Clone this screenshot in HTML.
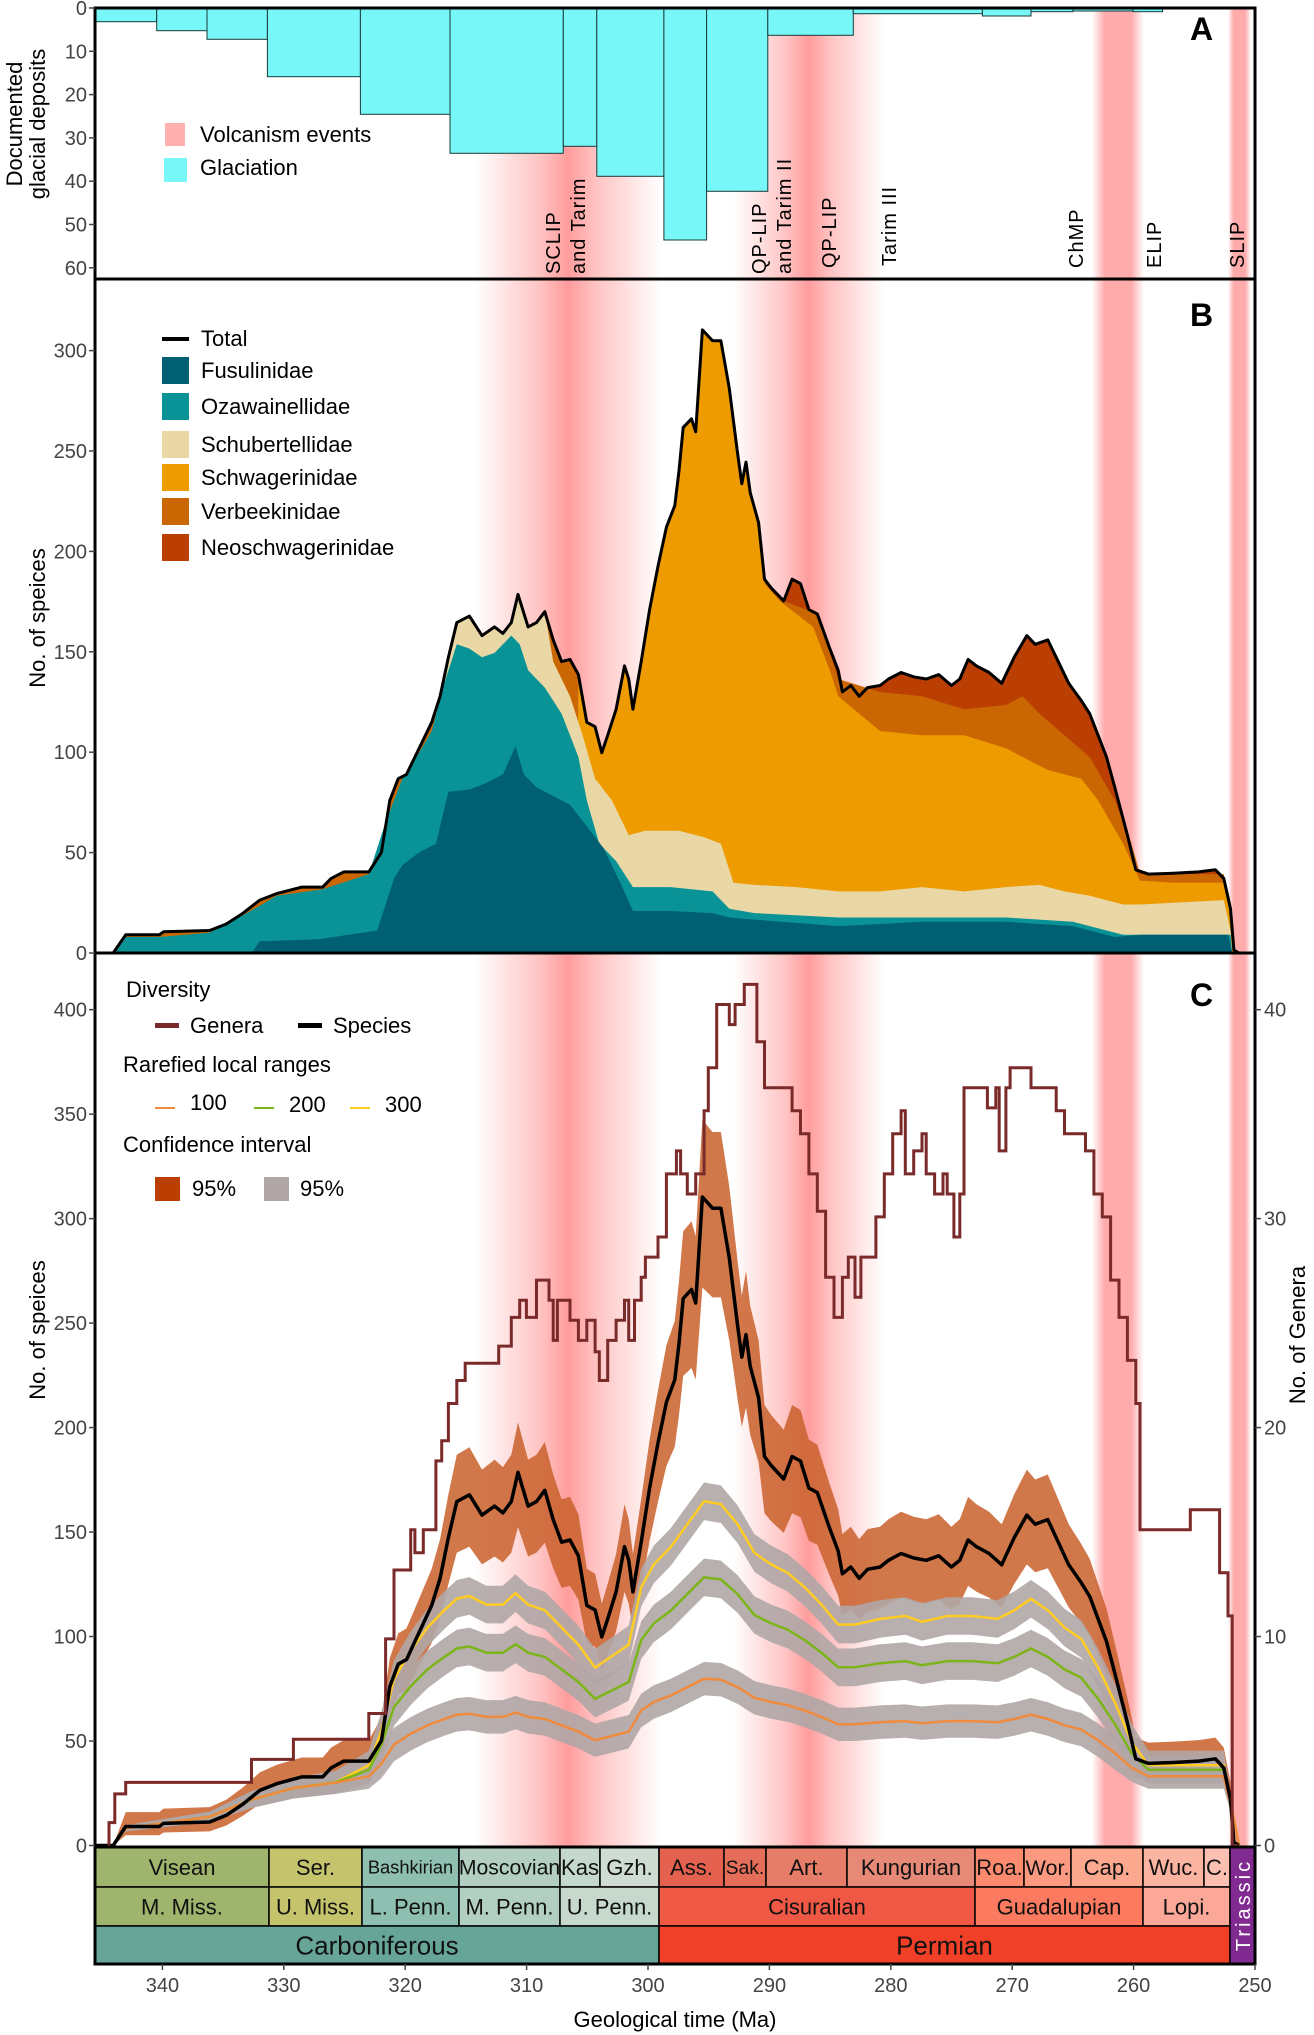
<!DOCTYPE html>
<html><head><meta charset="utf-8"><style>
html,body{margin:0;padding:0;background:#fff;}
svg{display:block;font-family:"Liberation Sans",sans-serif;}
</style></head><body>
<svg id="s" width="1314" height="2035" viewBox="0 0 1314 2035" xmlns="http://www.w3.org/2000/svg">
<defs>
<linearGradient id="g1" x1="0" x2="1" y1="0" y2="0">
<stop offset="0" stop-color="#ff9c9c" stop-opacity="0"/><stop offset="0.35" stop-color="#ff9c9c" stop-opacity="0.6"/><stop offset="0.5" stop-color="#ff9c9c" stop-opacity="1"/><stop offset="0.65" stop-color="#ff9c9c" stop-opacity="0.6"/><stop offset="1" stop-color="#ff9c9c" stop-opacity="0"/></linearGradient>
<linearGradient id="g2" x1="0" x2="1" y1="0" y2="0">
<stop offset="0" stop-color="#ff9c9c" stop-opacity="0"/><stop offset="0.25" stop-color="#ff9c9c" stop-opacity="0.85"/><stop offset="0.75" stop-color="#ff9c9c" stop-opacity="0.85"/><stop offset="1" stop-color="#ff9c9c" stop-opacity="0"/></linearGradient>
</defs>
<g id="bands">
<rect x="474" y="9" width="188" height="1838" fill="url(#g1)"/>
<rect x="733" y="9" width="151" height="1838" fill="url(#g1)"/>
<rect x="1092" y="9" width="52" height="1838" fill="url(#g2)"/>
<rect x="1228" y="9" width="23" height="1838" fill="url(#g2)"/>
</g>
<g id="dyn"></g>
<g id="st"></g>
<rect x="95" y="8" width="1160" height="271" fill="none" stroke="#000" stroke-width="3"/>
<rect x="95" y="279" width="1160" height="674" fill="none" stroke="#000" stroke-width="3"/>
<rect x="95" y="953" width="1160" height="894" fill="none" stroke="#000" stroke-width="3"/>
<g id="ticks" font-size="20" fill="#444"></g>
<g font-weight="bold" font-size="32" fill="#000">
<text x="1190" y="40">A</text><text x="1190" y="326">B</text><text x="1190" y="1006">C</text></g>
<g font-size="22" fill="#000">
<text transform="translate(22,124) rotate(-90)" text-anchor="middle">Documented</text>
<text transform="translate(45,124) rotate(-90)" text-anchor="middle">glacial deposits</text>
<text transform="translate(45,618) rotate(-90)" text-anchor="middle">No. of speices</text>
<text transform="translate(45,1330) rotate(-90)" text-anchor="middle">No. of speices</text>
<text transform="translate(1305,1335) rotate(-90)" text-anchor="middle">No. of Genera</text>
<text x="675" y="2027" text-anchor="middle">Geological time (Ma)</text>
</g>
<g font-size="20" fill="#000" letter-spacing="1">
<text transform="translate(560,274) rotate(-90)">SCLIP</text>
<text transform="translate(585,274) rotate(-90)">and Tarim</text>
<text transform="translate(766,274) rotate(-90)">QP-LIP</text>
<text transform="translate(791,274) rotate(-90)">and Tarim II</text>
<text transform="translate(836,268) rotate(-90)">QP-LIP</text>
<text transform="translate(896,266) rotate(-90)">Tarim III</text>
<text transform="translate(1083,268) rotate(-90)">ChMP</text>
<text transform="translate(1161,268) rotate(-90)">ELIP</text>
<text transform="translate(1244,268) rotate(-90)">SLIP</text>
</g>
<g font-size="22" fill="#000">
<rect x="165" y="123" width="20" height="23" fill="#ff9c9c" opacity="0.8"/>
<rect x="164" y="158" width="23" height="24" fill="#77f7f7"/>
<text x="200" y="142">Volcanism events</text><text x="200" y="175">Glaciation</text>
<rect x="162" y="337" width="27" height="4" fill="#000"/><text x="201" y="346">Total</text>
<rect x="162" y="357" width="27" height="27" fill="#005f73"/><text x="201" y="378">Fusulinidae</text>
<rect x="162" y="393" width="27" height="27" fill="#0a9396"/><text x="201" y="414">Ozawainellidae</text>
<rect x="162" y="431" width="27" height="27" fill="#e9d8a6"/><text x="201" y="452">Schubertellidae</text>
<rect x="162" y="464" width="27" height="27" fill="#ee9b00"/><text x="201" y="485">Schwagerinidae</text>
<rect x="162" y="498" width="27" height="27" fill="#ca6702"/><text x="201" y="519">Verbeekinidae</text>
<rect x="162" y="534" width="27" height="27" fill="#bb3e03"/><text x="201" y="555">Neoschwagerinidae</text>
<text x="126" y="997">Diversity</text>
<rect x="155" y="1023" width="24" height="5" fill="#7b2a2a"/><text x="190" y="1033">Genera</text>
<rect x="298" y="1023" width="24" height="5" fill="#000"/><text x="333" y="1033">Species</text>
<text x="123" y="1072">Rarefied local ranges</text>
<rect x="155" y="1107" width="20" height="2" fill="#f08a3c"/><text x="190" y="1110">100</text>
<rect x="254" y="1107" width="20" height="2" fill="#7cb518"/><text x="289" y="1112">200</text>
<rect x="350" y="1107" width="20" height="2" fill="#ffcc22"/><text x="385" y="1112">300</text>
<text x="123" y="1152">Confidence interval</text>
<rect x="155" y="1177" width="25" height="24" fill="#bb3e03"/><text x="192" y="1196">95%</text>
<rect x="264" y="1177" width="25" height="24" fill="#b0a6a6"/><text x="300" y="1196">95%</text>
</g>
</svg>
<script>
(function(){
var NS="http://www.w3.org/2000/svg";
function el(p,tag,a,txt){var e=document.createElementNS(NS,tag);for(var k in a)e.setAttribute(k,a[k]);if(txt!==undefined)e.textContent=txt;p.appendChild(e);return e;}
function P(pts){return 'M'+pts.map(function(p){return p[0].toFixed(1)+','+p[1].toFixed(1);}).join('L');}
var dyn=document.getElementById('dyn'),st=document.getElementById('st'),tk=document.getElementById('ticks');
var bx=[94.7,156.7,207,267.4,360.4,450,563.3,596.8,663.9,706.6,767.8,853.3,982.4,1031,1073,1133,1162.6];
var by=[21.7,30.7,39.3,76.7,114.3,153.3,146.3,176.3,240,191.3,35.3,13.7,16,11.7,11,11.7];
for(var i=0;i<by.length;i++){el(dyn,'rect',{x:bx[i],y:8,width:bx[i+1]-bx[i],height:by[i]-8,fill:'#77f7f7',stroke:'#1a3a3a','stroke-width':1});}
var T=[[113,1552],[135,1552],[150,1510],[190,1510],[195,1503],[250,1500],[270,1485],[290,1460],[310,1430],[330,1415],[360,1400],[385,1400],[395,1380],[410,1365],[440,1365],[455,1320],[465,1200],[475,1150],[485,1140],[495,1100],[505,1060],[515,1020],[525,960],[535,870],[545,790],[560,775],[575,820],[590,800],[600,815],[610,790],[618,725],[630,800],[640,790],[650,765],[660,830],[670,880],[680,875],[690,910],[700,1020],[710,1030],[718,1090],[725,1050],[735,990],[745,890],[750,920],[755,990],[765,880],[775,760],[785,660],[795,570],[805,520],[810,440],[815,340],[825,320],[830,350],[838,115],[850,140],[860,140],[870,250],[880,400],[885,470],[890,420],[895,490],[905,560],[912,690],[920,710],[935,740],[945,690],[955,700],[965,760],[975,770],[990,850],[1000,900],[1005,950],[1015,935],[1025,960],[1035,940],[1050,935],[1060,920],[1075,905],[1090,915],[1105,920],[1120,910],[1135,935],[1145,920],[1155,875],[1165,890],[1180,905],[1195,930],[1210,870],[1225,820],[1235,840],[1250,830],[1260,870],[1275,930],[1290,970],[1300,1000],[1310,1050],[1320,1100],[1330,1170],[1345,1280],[1355,1360],[1370,1370],[1400,1368],[1430,1365],[1450,1360],[1460,1380],[1468,1450],[1472,1545],[1478,1552]];
function rng(a,b){return T.filter(function(p){return p[0]>=a&&p[0]<=b;});}
var V=rng(0,905).concat([[912,690],[935,740],[975,770],[1000,920],[1050,950],[1100,960],[1150,990],[1200,980],[1220,960],[1240,1000],[1270,1050],[1300,1100],[1330,1200],[1350,1300],[1360,1370],[1460,1370],[1468,1450],[1472,1552]]);
var S=[[688,1552]].concat(rng(690,905)).concat([[912,700],[930,740],[950,770],[970,800],[990,900],[1000,960],[1050,1040],[1100,1050],[1150,1050],[1200,1080],[1250,1130],[1290,1150],[1310,1200],[1340,1300],[1360,1385],[1400,1390],[1460,1390],[1468,1450],[1472,1552]]);
var SB=[[518,1552],[520,1000]].concat(rng(525,650)).concat([[660,880],[680,960],[695,1050],[710,1150],[730,1200],[750,1280],[770,1270],[810,1270],[840,1285],[860,1300],[875,1390],[900,1395],[950,1400],[1000,1410],[1050,1410],[1100,1400],[1150,1410],[1200,1400],[1240,1395],[1270,1410],[1300,1420],[1340,1440],[1360,1440],[1460,1430],[1468,1500],[1470,1552]]);
var OZ=[[113,1552],[135,1552],[150,1515],[190,1515],[250,1505],[290,1465],[330,1420],[385,1405],[440,1370],[460,1250],[480,1150],[500,1090],[515,1040],[530,930],[545,840],[560,850],[575,870],[590,860],[610,820],[620,840],[630,900],[650,940],[670,1000],[690,1100],[700,1200],[715,1300],[735,1340],[755,1400],[800,1400],[850,1410],[870,1450],[900,1460],[1000,1470],[1200,1470],[1280,1480],[1320,1500],[1340,1510],[1468,1510],[1470,1552]];
var FU=[[113,1552],[300,1552],[310,1525],[380,1520],[450,1500],[460,1440],[470,1380],[480,1350],[500,1320],[520,1300],[535,1180],[560,1175],[580,1160],[600,1140],[615,1075],[625,1140],[640,1170],[660,1190],[680,1210],[700,1260],[720,1310],[740,1390],[755,1455],[800,1455],[850,1460],[870,1470],[900,1475],[1000,1490],[1050,1485],[1100,1480],[1200,1480],[1280,1490],[1330,1515],[1360,1510],[1465,1510],[1470,1552]];
function toB(pts){return pts.map(function(p){return [p[0]/1.193,280+p[1]/2.306];});}
function closeB(pts){var q=toB(pts);var b=953;q.push([q[q.length-1][0],b]);q.unshift([q[0][0],b]);return P(q)+'Z';}
[[T,'#bb3e03'],[V,'#ca6702'],[S,'#ee9b00'],[SB,'#e9d8a6'],[OZ,'#0a9396'],[FU,'#005f73']].forEach(function(a){el(dyn,'path',{d:closeB(a[0]),fill:a[1]});});
el(dyn,'path',{d:P(toB(T)),fill:'none',stroke:'#000','stroke-width':3,'stroke-linejoin':'round'});
function cy(v){return 1845.5-2.0896*v;}
function val(yz){return (1552-yz)/4.63;}
var up=T.map(function(p){return [p[0]/1.193,cy(Math.max(0,val(p[1])*1.1+(val(p[1])>2?6:0)))];});
var lo=T.map(function(p){return [p[0]/1.193,cy(Math.max(0,val(p[1])*0.87-3))];}).reverse();
el(dyn,'path',{d:P(up.concat(lo))+'Z',fill:'#c9602c',opacity:0.85});
var Y=[[135,1560],[150,1530],[250,1510],[300,1480],[350,1460],[400,1450],[440,1420],[455,1360],[470,1270],[490,1220],[510,1180],[530,1150],[545,1130],[560,1125],[580,1140],[600,1140],[615,1120],[630,1140],[650,1150],[670,1180],[690,1210],[710,1250],[720,1240],[740,1220],[750,1210],[765,1110],[780,1070],[800,1040],[820,1000],[840,960],[860,965],[880,1000],[900,1050],[920,1070],[940,1085],[960,1110],[980,1140],[1000,1175],[1020,1175],[1050,1165],[1080,1160],[1100,1170],[1130,1160],[1160,1160],[1190,1165],[1210,1150],[1230,1130],[1250,1150],[1270,1180],[1290,1200],[1310,1250],[1330,1310],[1350,1380],[1370,1420],[1460,1420],[1470,1500],[1478,1560]];
var yv=Y.map(function(p){return [p[0]/1.193,(1560-p[1])/3.6425];});
function fy(v){return v;} function fg(v){return v-0.27*Math.max(0,v-30);} function fo(v){return v<=30?v:30+(v-30)*0.37;}
[[fy,'#ffcc22',9],[fg,'#7cb518',9],[fo,'#f08a3c',8]].forEach(function(a){
 var f=a[0],w=a[2];
 var u=yv.map(function(p){var v=f(p[1]);return [p[0],cy(v+Math.min(w,v*0.18))];});
 var l=yv.map(function(p){var v=f(p[1]);return [p[0],cy(Math.max(0,v-Math.min(w,v*0.18)))];}).reverse();
 el(dyn,'path',{d:P(u.concat(l))+'Z',fill:'#b0a6a6',opacity:0.9});
});
[[fy,'#ffcc22'],[fg,'#7cb518'],[fo,'#f08a3c']].forEach(function(a){
 el(dyn,'path',{d:P(yv.map(function(p){return [p[0],cy(a[0](p[1]))];})),fill:'none',stroke:a[1],'stroke-width':2.5});
});
el(dyn,'path',{d:P(T.map(function(p){return [p[0]/1.193,cy(val(p[1]))];})),fill:'none',stroke:'#000','stroke-width':3.5,'stroke-linejoin':'round'});
var G=[[130,1560],[130,1520],[137,1520],[137,1470],[150,1470],[150,1450],[300,1450],[300,1410],[350,1410],[350,1375],[440,1375],[440,1330],[460,1330],[460,1200],[470,1200],[470,1080],[490,1080],[490,1010],[495,1010],[495,1050],[505,1050],[505,1010],[520,1010],[520,890],[527,890],[527,855],[535,855],[535,790],[545,790],[545,750],[555,750],[555,720],[595,720],[595,690],[610,690],[610,640],[620,640],[620,610],[628,610],[628,640],[640,640],[640,575],[655,575],[655,610],[660,610],[660,680],[665,680],[665,610],[680,610],[680,645],[690,645],[690,680],[700,680],[700,645],[710,645],[710,700],[715,700],[715,750],[725,750],[725,680],[735,680],[735,645],[745,645],[745,610],[750,610],[750,680],[757,680],[757,610],[765,610],[765,570],[770,570],[770,535],[785,535],[785,500],[795,500],[795,390],[807,390],[807,350],[812,350],[812,390],[820,390],[820,425],[830,425],[830,390],[840,390],[840,280],[845,280],[845,205],[855,205],[855,95],[870,95],[870,130],[877,130],[877,95],[888,95],[888,60],[903,60],[903,160],[912,160],[912,240],[945,240],[945,280],[955,280],[955,320],[965,320],[965,390],[975,390],[975,455],[985,455],[985,570],[995,570],[995,640],[1005,640],[1005,570],[1012,570],[1012,535],[1020,535],[1020,605],[1027,605],[1027,535],[1045,535],[1045,465],[1055,465],[1055,390],[1065,390],[1065,320],[1075,320],[1075,280],[1080,280],[1080,390],[1090,390],[1090,350],[1100,350],[1100,320],[1105,320],[1105,390],[1115,390],[1115,425],[1125,425],[1125,390],[1130,390],[1130,425],[1138,425],[1138,500],[1145,500],[1145,425],[1150,425],[1150,240],[1178,240],[1178,275],[1188,275],[1188,240],[1192,240],[1192,350],[1200,350],[1200,240],[1205,240],[1205,205],[1230,205],[1230,240],[1260,240],[1260,280],[1270,280],[1270,320],[1295,320],[1295,350],[1305,350],[1305,425],[1315,425],[1315,465],[1325,465],[1325,575],[1335,575],[1335,640],[1345,640],[1345,715],[1355,715],[1355,790],[1360,790],[1360,1010],[1420,1010],[1420,975],[1455,975],[1455,1085],[1465,1085],[1465,1160],[1470,1160],[1470,1560],[1478,1560]];
el(dyn,'path',{d:P(G.map(function(p){return [p[0]/1.193,950+p[1]/1.742];})),fill:'none',stroke:'#7b2a2a','stroke-width':3});
var r1=[[95,269,'Visean','#9fb46c'],[269,362,'Ser.','#c5c46c'],[362,459,'Bashkirian','#8fbfb1'],[459,560,'Moscovian','#b3cfc2'],[560,600,'Kas','#c4d8cc'],[600,659,'Gzh.','#cfdcd2'],[659,724,'Ass.','#e5614f'],[724,766,'Sak.','#e46e5a'],[766,847,'Art.','#e57d68'],[847,975,'Kungurian','#e68a77'],[975,1024,'Roa.','#fb8a6f'],[1024,1071,'Wor.','#fb9a80'],[1071,1143,'Cap.','#fba88f'],[1143,1204,'Wuc.','#fcb4a2'],[1204,1230,'C.','#fcc0b2']];
var r2=[[95,269,'M. Miss.','#9fb46c'],[269,362,'U. Miss.','#c5c46c'],[362,459,'L. Penn.','#8fbfb1'],[459,560,'M. Penn.','#b3cfc2'],[560,659,'U. Penn.','#c7d9cd'],[659,975,'Cisuralian','#ef5845'],[975,1143,'Guadalupian','#fb7a60'],[1143,1230,'Lopi.','#fba898']];
var r3=[[95,659,'Carboniferous','#67a599'],[659,1230,'Permian','#f04028']];
function row(r,y0,y1,fs){r.forEach(function(c){el(st,'rect',{x:c[0],y:y0,width:c[1]-c[0],height:y1-y0,fill:c[3],stroke:'#000','stroke-width':1.5});
 var sz=fs; var w=c[1]-c[0]; var est=c[2].length*sz*0.52; if(est>w-2)sz=Math.max(11,(w-2)/(c[2].length*0.52));
 el(st,'text',{x:(c[0]+c[1])/2,y:(y0+y1)/2+sz*0.36,'text-anchor':'middle','font-size':sz.toFixed(1),fill:'#111'},c[2]);});}
row(r1,1847,1887,22);row(r2,1887,1926,22);row(r3,1926,1964,26);
el(st,'rect',{x:1230,y:1847,width:25,height:117,fill:'#812b92',stroke:'#000','stroke-width':1.5});
el(st,'text',{transform:'translate(1250,1905) rotate(-90)','text-anchor':'middle','font-size':20,fill:'#fff','letter-spacing':3},'Triassic');
el(st,'rect',{x:95,y:1847,width:1160,height:117,fill:'none',stroke:'#000','stroke-width':3});
for(var t=250;t<=340;t+=10){var x=1255-(t-250)*12.14;el(tk,'line',{x1:x,x2:x,y1:1964,y2:1970,stroke:'#444','stroke-width':1.5});el(tk,'text',{x:x,y:1992,'text-anchor':'middle'},String(t));}
for(var v=0;v<=60;v+=10){var y=8+4.33*v;el(tk,'line',{x1:89,x2:95,y1:y,y2:y,stroke:'#444','stroke-width':1.5});el(tk,'text',{x:87,y:y+7,'text-anchor':'end'},String(v));}
for(var v=0;v<=300;v+=50){var y=953-2.008*v;el(tk,'line',{x1:89,x2:95,y1:y,y2:y,stroke:'#444','stroke-width':1.5});el(tk,'text',{x:87,y:y+7,'text-anchor':'end'},String(v));}
for(var v=0;v<=400;v+=50){var y=cy(v);el(tk,'line',{x1:89,x2:95,y1:y,y2:y,stroke:'#444','stroke-width':1.5});el(tk,'text',{x:87,y:y+7,'text-anchor':'end'},String(v));}
for(var g=0;g<=40;g+=10){var y=cy(g*10);el(tk,'line',{x1:1255,x2:1261,y1:y,y2:y,stroke:'#444','stroke-width':1.5});el(tk,'text',{x:1264,y:y+7},String(g));}
})();
</script>
</body></html>
